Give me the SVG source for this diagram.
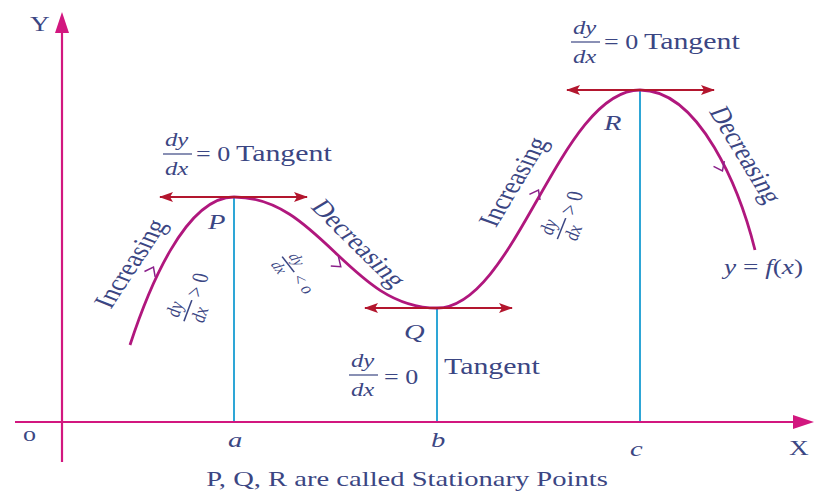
<svg xmlns="http://www.w3.org/2000/svg" width="820" height="495" viewBox="0 0 820 495">
<defs>
<style>
.t{font-family:"Liberation Serif","Times New Roman","DejaVu Serif",serif;fill:#3b4683;}
.i{font-style:italic;}
.ax{stroke:#d2177f;stroke-width:2.2;fill:none;}
.tan{stroke:#b3162e;stroke-width:2.2;fill:none;}
.vl{stroke:#2ea6d6;stroke-width:2;}
.cv{stroke:#b0177d;stroke-width:2.8;fill:none;}
.ch{stroke:#8a1f8a;stroke-width:1.5;fill:none;}
.fl{stroke:#3b4683;stroke-width:1.2;}
</style>
<marker id="ah" viewBox="0 0 14 10" refX="13" refY="5" markerWidth="14" markerHeight="10" markerUnits="userSpaceOnUse" orient="auto-start-reverse">
<path d="M0,0 L14,5 L0,10 L3,5 Z" fill="#b3162e"/>
</marker>
</defs>
<rect width="820" height="495" fill="#fff"/>

<g id="axes">
<line class="ax" x1="62" y1="462" x2="62" y2="30"/>
<path d="M62,12 L55,33 L69,33 Z" fill="#d2177f"/>
<line class="ax" x1="15" y1="422" x2="796" y2="422"/>
<path d="M814,422 L793,415 L793,429 Z" fill="#d2177f"/>
<text class="t" font-size="21" transform="translate(30,31) scale(1.3,1)">Y</text>
<text class="t" font-size="20" transform="translate(23,441) scale(1.3,1)">o</text>
<text class="t" font-size="21" transform="translate(789,455) scale(1.3,1)">X</text>
<text class="t i" font-size="22" transform="translate(228,447) scale(1.3,1)">a</text>
<text class="t i" font-size="22" transform="translate(431,447) scale(1.3,1)">b</text>
<text class="t i" font-size="22" transform="translate(630,456) scale(1.3,1)">c</text>
</g>

<g id="verticals">
<line class="vl" x1="234" y1="197" x2="234" y2="421"/>
<line class="vl" x1="437" y1="308" x2="437" y2="421"/>
<line class="vl" x1="640" y1="90" x2="640" y2="421"/>
</g>

<g id="curve">
<path class="cv" d="M130,345 C148,290 185,197 234,197 C320,197 350,308 437,308 C515,308 560,90 640,90 C700,90 740,190 755,250"/>
<path class="ch" d="M-7,-6 L1,0 L-7,6" transform="translate(153,268) rotate(-63)"/>
<path class="ch" d="M-7,-6 L1,0 L-7,6" transform="translate(340,266) rotate(40)"/>
<path class="ch" d="M-7,-6 L1,0 L-7,6" transform="translate(538,191) rotate(-62)"/>
<path class="ch" d="M-7,-6 L1,0 L-7,6" transform="translate(722,170) rotate(64)"/>
</g>

<g id="connectors">
<line class="tan" x1="160" y1="197" x2="307" y2="197" marker-start="url(#ah)" marker-end="url(#ah)"/>
<line class="tan" x1="365" y1="308" x2="512" y2="308" marker-start="url(#ah)" marker-end="url(#ah)"/>
<line class="tan" x1="567" y1="90" x2="714" y2="90" marker-start="url(#ah)" marker-end="url(#ah)"/>
</g>

<g id="P">
<text class="t i" font-size="22" transform="translate(208,229) scale(1.3,1)">P</text>
<text class="t i" font-size="19" transform="translate(165,146) scale(1.3,1)">dy</text>
<line class="fl" x1="163" y1="154" x2="192" y2="154"/>
<text class="t i" font-size="19" transform="translate(165,175) scale(1.3,1)">dx</text>
<text class="t" font-size="20" transform="translate(196,161) scale(1.3,1)">= 0</text>
<text class="t" font-size="23" transform="translate(236,161) scale(1.3,1)">Tangent</text>
</g>

<g id="Q">
<text class="t i" font-size="22" transform="translate(404,339) scale(1.3,1)">Q</text>
<text class="t i" font-size="19" transform="translate(351,367) scale(1.3,1)">dy</text>
<line class="fl" x1="349" y1="375" x2="378" y2="375"/>
<text class="t i" font-size="19" transform="translate(351,396) scale(1.3,1)">dx</text>
<text class="t" font-size="20" transform="translate(384,384) scale(1.3,1)">= 0</text>
<text class="t" font-size="23" transform="translate(444,374) scale(1.3,1)">Tangent</text>
</g>

<g id="R">
<text class="t i" font-size="22" transform="translate(604,130) scale(1.3,1)">R</text>
<text class="t i" font-size="19" transform="translate(573,34) scale(1.3,1)">dy</text>
<line class="fl" x1="571" y1="42" x2="600" y2="42"/>
<text class="t i" font-size="19" transform="translate(573,63) scale(1.3,1)">dx</text>
<text class="t" font-size="20" transform="translate(604,49) scale(1.3,1)">= 0</text>
<text class="t" font-size="23" transform="translate(644,49) scale(1.3,1)">Tangent</text>
</g>

<g id="labels">
<text class="t" font-size="23" text-anchor="middle" transform="translate(139,267) scale(1.3,1) rotate(-63)">Increasing</text>
<text class="t" font-size="23" text-anchor="middle" transform="translate(351,248) scale(1.3,1) rotate(52)">Decreasing</text>
<text class="t" font-size="23" text-anchor="middle" transform="translate(522,185) scale(1.3,1) rotate(-65)">Increasing</text>
<text class="t" font-size="23" text-anchor="middle" transform="translate(737,158) scale(1.3,1) rotate(65)">Decreasing</text>
<text class="t" font-size="21" transform="translate(724,274) scale(1.3,1)"><tspan class="i">y</tspan> = <tspan class="i">f</tspan>(<tspan class="i">x</tspan>)</text>
<text class="t" font-size="22" text-anchor="middle" transform="translate(407,486) scale(1.3,1)">P, Q, R are called Stationary Points</text>

<g transform="translate(192,296) scale(1.3,1) rotate(-74)">
<text class="t i" x="-24" y="-4" font-size="16">dy</text>
<line class="fl" x1="-26" y1="1" x2="-4" y2="1"/>
<text class="t i" x="-24" y="16" font-size="16">dx</text>
<text class="t" x="0" y="7" font-size="18">&gt; 0</text>
</g>
<g transform="translate(298,275) scale(1.3,1) rotate(59)">
<text class="t i" x="-20" y="-3" font-size="13">dy</text>
<line class="fl" x1="-22" y1="1" x2="-4" y2="1"/>
<text class="t i" x="-20" y="13" font-size="13">dx</text>
<text class="t" x="0" y="6" font-size="15">&lt; o</text>
</g>
<g transform="translate(566,214) scale(1.3,1) rotate(-73)">
<text class="t i" x="-24" y="-4" font-size="16">dy</text>
<line class="fl" x1="-26" y1="1" x2="-4" y2="1"/>
<text class="t i" x="-24" y="16" font-size="16">dx</text>
<text class="t" x="0" y="7" font-size="18">&gt; 0</text>
</g>
</g>
</svg>
